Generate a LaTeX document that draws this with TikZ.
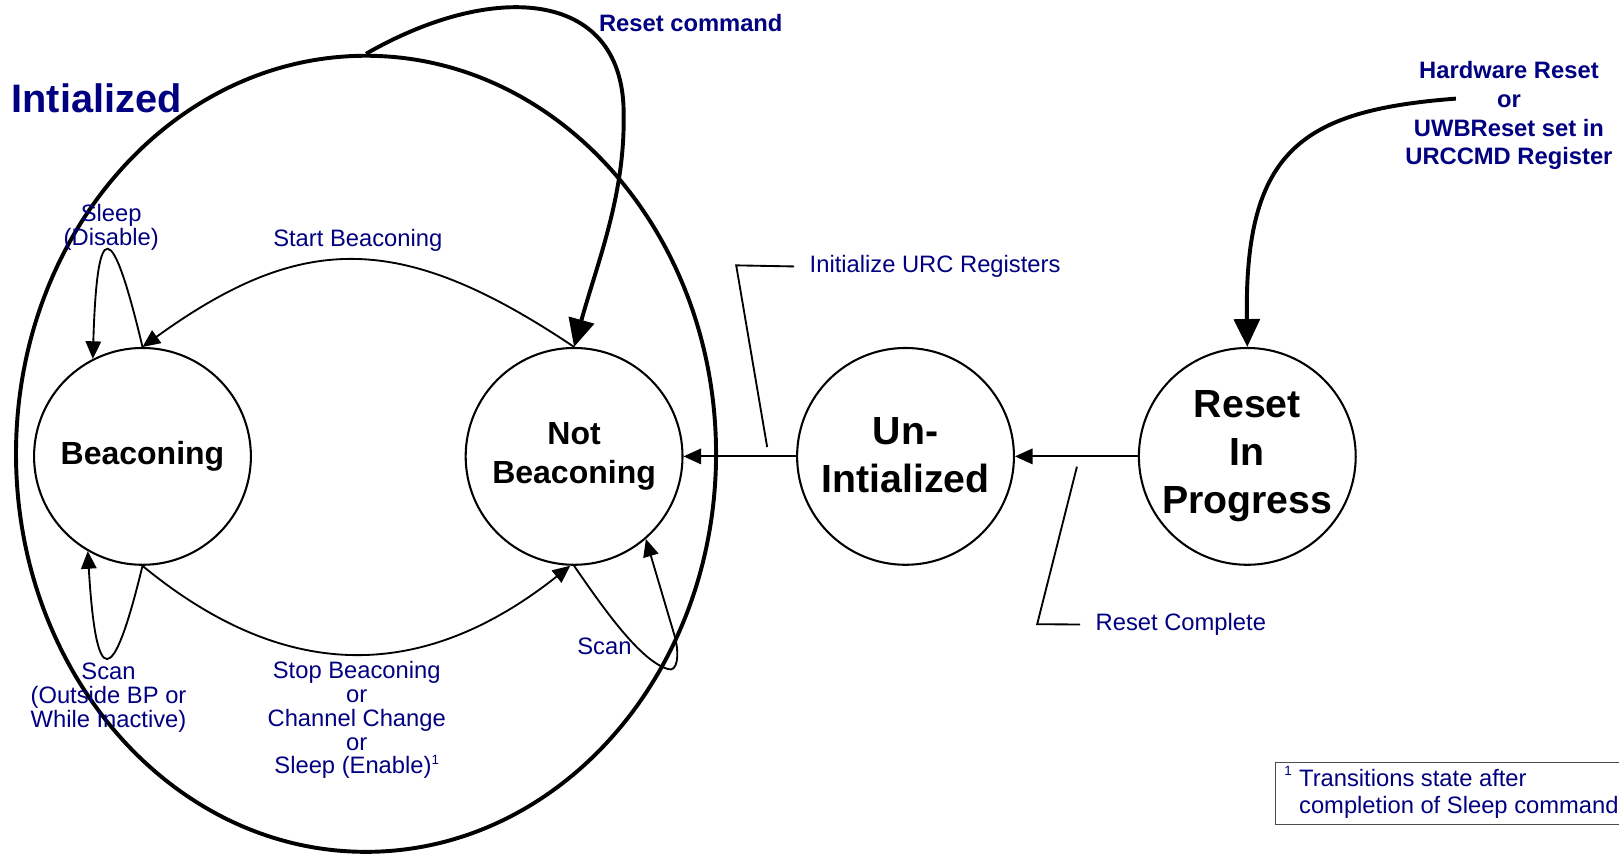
\documentclass[tikz,border=0pt]{standalone}
\usepackage{fontspec}
\setmainfont{Liberation Sans}
\usetikzlibrary{arrows.meta,shapes.geometric}
\definecolor{navytext}{RGB}{0,0,128}
\begin{document}
\begin{tikzpicture}[x=1pt,y=-1pt,
  stnode/.style={draw, circle, line width=2pt, minimum size=210pt, inner sep=0pt, align=center, font=\fontsize{38}{46.5}\selectfont\bfseries},
  smallst/.style={stnode, font=\fontsize{31}{37}\selectfont\bfseries},
  lbl/.style={text=navytext, inner sep=0pt, align=center, font=\fontsize{23}{23.2}\selectfont},
  blbl/.style={lbl, font=\fontsize{23}{28}\selectfont\bfseries},
  arr/.style={line width=1.8pt, -{Triangle[length=17pt,width=15pt]}},
  bigarr/.style={line width=3.8pt, -{Triangle[length=27pt,width=25pt]}},
  leader/.style={line width=1.8pt},
]
\useasboundingbox (0,0) rectangle (1568,827);

% outer "Intialized" super-state
\node[draw, ellipse, line width=3.8pt, minimum width=678pt, minimum height=771pt, inner sep=0pt] (init) at (354.5,439.5) {};

% states
\node[smallst] (bc) at (138,442) {Beaconing};
\node[smallst] (nb) at (556,442) {Not\\Beaconing};
\node[stnode] (un) at (877,442) {\raisebox{2pt}{Un-}\\\raisebox{2pt}{Intialized}};
\node[stnode] (rip) at (1208,442) {Reset\\In\\Progress};

% labels (multi-line nodes: base = last line's baseline)
\node[text=navytext, inner sep=0pt, anchor=base west, font=\fontsize{38.5}{38.5}\selectfont\bfseries] (tinit) at (11,109) {Intialized};
\node[blbl, anchor=base west] (treset) at (580,30.7) {Reset command};
\node[blbl, anchor=base] (thw) at (1461.4,159.8) {Hardware Reset\\or\\UWBReset set in\\URCCMD Register};
\node[lbl, anchor=base] (tsleep) at (107.7,237.3) {Sleep\\(Disable)};
\node[lbl, anchor=base] (tstart) at (346.5,239) {Start Beaconing};
\node[lbl, anchor=base west] (tinitreg) at (784,264) {Initialize URC Registers};
\node[lbl, anchor=base] (tscanb) at (105.1,704.4) {Scan\\(Outside BP or\\While Inactive)};
\node[lbl, anchor=base] (tstop) at (345.5,749.6) {Stop Beaconing\\or\\Channel Change\\or\\Sleep (Enable)\raisebox{9pt}{\fontsize{13}{13}\selectfont 1}};
\node[lbl, anchor=base west] (tscannb) at (559,633.7) {Scan};
\node[lbl, anchor=base west] (tcomplete) at (1061,610.8) {Reset Complete};

% footnote
\node[draw=black!70, line width=1pt, anchor=north west, minimum width=345pt, minimum height=60.3pt, inner sep=0pt] (fnbox) at (1234.5,737.7) {};
\node[lbl, align=left, anchor=base west, font=\fontsize{23}{26}\selectfont] (fn) at (1258,787.7) {\llap{\raisebox{11pt}{\fontsize{13}{13}\selectfont 1}\hspace{7pt}}Transitions state after\\completion of Sleep command};

% transitions
\draw[arr] (nb.north) .. controls (389,224) and (293,224) .. (bc.north);
\draw[arr] (bc.south) .. controls (274,660) and (407,663) .. (nb.268);
\draw[arr] (bc.north) .. controls (108,210) and (94,210) .. (bc.117);
\draw[arr] (bc.south) .. controls (109,668) and (93,668) .. (bc.240);
\draw[arr] (nb.south) .. controls (585,590) and (620,640) .. (647,648) .. controls (656,651) and (658,635) .. (654,618) -- (nb.311);
\draw[arr] (un.west) -- (nb.east);
\draw[arr] (rip.west) -- (un.east);

\draw[bigarr] (init.north) .. controls (480,-20) and (606,-10) .. (604,113) .. controls (605,190) and (578,256) .. (nb.north);
\coordinate (hwstart) at (1410,95.5);
\draw[bigarr] (hwstart) .. controls (1260,107) and (1205,146) .. (rip.north);

% leader lines
\coordinate (ldinit) at (743,433);
\draw[leader] (ldinit) -- (713,257) -- ([xshift=-15pt]tinitreg.west);
\coordinate (ldcomp) at (1043,452);
\draw[leader] (ldcomp) -- (1004.5,604.5) -- ([xshift=-15pt]tcomplete.west);
\end{tikzpicture}
\end{document}
